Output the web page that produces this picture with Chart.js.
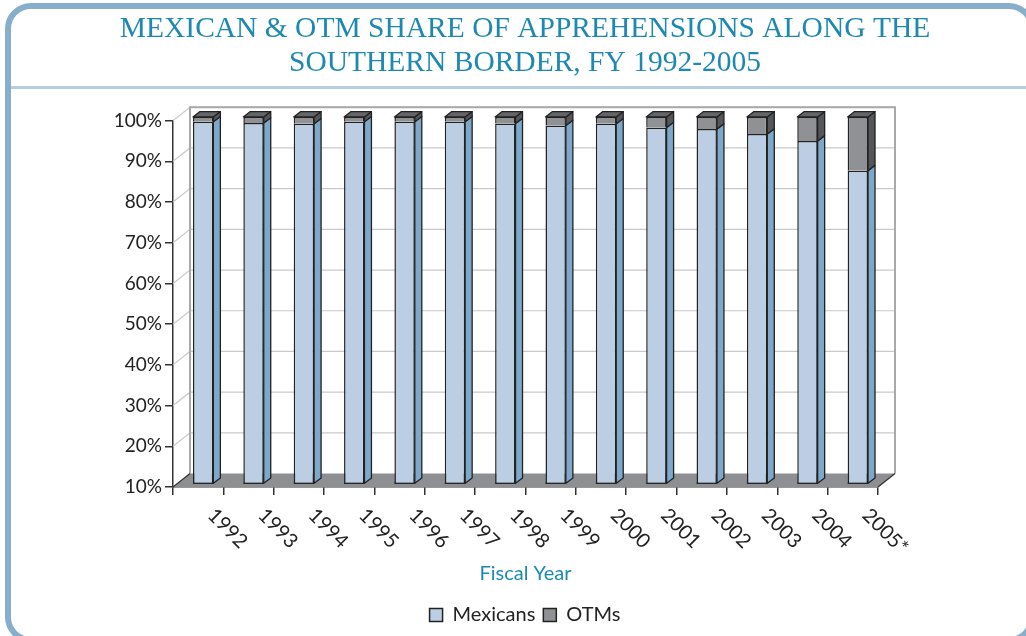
<!DOCTYPE html>
<html><head><meta charset="utf-8">
<script src="https://cdn.jsdelivr.net/npm/chart.js@4.4.0/dist/chart.umd.min.js"></script>
<style>
html,body{margin:0;padding:0;background:#fff;}
#wrap{position:relative;width:1026px;height:636px;overflow:hidden;}
#frame{position:absolute;left:5px;top:3px;width:1030px;height:640px;box-sizing:border-box;border:6px solid #87aecb;border-radius:26px;}
#sep{position:absolute;left:11px;top:86px;width:1015px;height:3px;background:#b7cde0;}
canvas{position:absolute;left:0;top:0;}
</style></head><body>
<div id="wrap"><div id="frame"></div><div id="sep"></div><canvas id="c" width="1026" height="636"></canvas></div>
<script>
const categories = ['1992','1993','1994','1995','1996','1997','1998','1999','2000','2001','2002','2003','2004','2005*'];
const mexicans = [98.8, 98.5, 98.3, 98.8, 98.8, 98.8, 98.4, 97.9, 98.3, 97.4, 97.0, 95.8, 94.1, 86.8];
const otms     = [1.2, 1.5, 1.7, 1.2, 1.2, 1.2, 1.6, 2.1, 1.7, 2.6, 3.0, 4.2, 5.9, 13.2];
const yTickValues = [10, 20, 30, 40, 50, 60, 70, 80, 90, 100];
const titleLines = ['MEXICAN & OTM SHARE OF APPREHENSIONS ALONG THE', 'SOUTHERN BORDER, FY 1992-2005'];
const xTitle = 'Fiscal Year';

const D = {wx: 17, wy: 13.4, sx: 5, sy: 3.7, bx: 7, by: 5.3};
const COL = {mexFront:'#bccee3', mexSide:'#7ea8c9', otmFront:'#909194', otmSide:'#55565a', otmTop:'#646568', edge:'#222'};

const threeD = {
  id: 'threeD',
  beforeDatasetsDraw(chart) {
    const {ctx, chartArea: a, scales: {x, y}} = chart;
    ctx.save();
    const fb = y.getPixelForValue(y.min);
    ctx.fillStyle = '#8e8f92';
    ctx.beginPath();
    ctx.moveTo(a.left, fb); ctx.lineTo(a.right, fb);
    ctx.lineTo(a.right + D.wx, fb - D.wy); ctx.lineTo(a.left + D.wx, fb - D.wy);
    ctx.closePath(); ctx.fill();
    ctx.strokeStyle = '#c9c9c9'; ctx.lineWidth = 1.2;
    y.ticks.forEach(t => {
      if (t.value === y.min) return;
      const py = y.getPixelForValue(t.value);
      ctx.beginPath();
      ctx.moveTo(a.left, py); ctx.lineTo(a.left + D.wx, py - D.wy); ctx.lineTo(a.right + D.wx, py - D.wy);
      ctx.stroke();
    });
    ctx.strokeStyle = '#a9a9a9'; ctx.lineWidth = 2;
    ctx.beginPath();
    ctx.moveTo(a.left + D.wx, fb - D.wy); ctx.lineTo(a.left + D.wx, a.top - D.wy);
    ctx.lineTo(a.right + D.wx, a.top - D.wy); ctx.lineTo(a.right + D.wx, fb - D.wy);
    ctx.stroke();
    ctx.strokeStyle = '#333'; ctx.lineWidth = 1.3;
    ctx.beginPath();
    ctx.moveTo(a.right, fb); ctx.lineTo(a.right + D.wx, fb - D.wy);
    ctx.moveTo(a.left, fb); ctx.lineTo(a.left + D.wx, fb - D.wy);
    ctx.stroke();
    ctx.restore();
    ctx.save();
    ctx.translate(D.sx, -D.sy);
  },
  afterDatasetsDraw(chart) {
    const {ctx, scales: {y: ys}} = chart;
    const floorPx = ys.getPixelForValue(ys.min);
    const n = chart.data.datasets.length;
    ctx.strokeStyle = COL.edge; ctx.lineWidth = 1.3; ctx.lineJoin = 'round';
    for (let d = 0; d < n; d++) {
      const meta = chart.getDatasetMeta(d);
      const side = chart.data.datasets[d].sideColor;
      meta.data.forEach(el => {
        const p = el.getProps(['x', 'y', 'base', 'width'], true);
        const x = p.x, y = p.y, width = p.width;
        const base = Math.min(p.base, floorPx);
        const xr = x + width / 2, xl = x - width / 2;
        ctx.fillStyle = side;
        ctx.beginPath();
        ctx.moveTo(xr, y); ctx.lineTo(xr + D.bx, y - D.by); ctx.lineTo(xr + D.bx, base - D.by); ctx.lineTo(xr, base);
        ctx.closePath(); ctx.fill(); ctx.stroke();
        if (d === 0) {
          ctx.beginPath(); ctx.moveTo(xl, base); ctx.lineTo(xr, base); ctx.stroke();
        }
        if (d === n - 1) {
          ctx.fillStyle = COL.otmTop;
          ctx.beginPath();
          ctx.moveTo(xl, y); ctx.lineTo(xr, y); ctx.lineTo(xr + D.bx, y - D.by); ctx.lineTo(xl + D.bx, y - D.by);
          ctx.closePath(); ctx.fill(); ctx.stroke();
        }
      });
    }
    ctx.restore();
  },
  afterDraw(chart) {
    const {ctx, chartArea: a, scales: {x}} = chart;
    ctx.save();
    ctx.font = '20px Lato'; ctx.fillStyle = '#222';
    ctx.textAlign = 'left'; ctx.textBaseline = 'middle';
    x.getLabels().forEach((lab, i) => {
      const px = x.getPixelForValue(i);
      ctx.save();
      ctx.translate(px + 13, a.bottom + 25);
      ctx.rotate(Math.PI / 4);
      ctx.fillText(lab, 0, 0);
      ctx.restore();
    });
    ctx.restore();
  }
};

function make() {
  new Chart(document.getElementById('c'), {
    type: 'bar',
    data: {
      labels: categories,
      datasets: [
        {label: 'Mexicans', data: mexicans, backgroundColor: COL.mexFront, sideColor: COL.mexSide, borderColor: COL.edge, borderWidth: 1.5, yAxisID: 'y'},
        {label: 'OTMs', data: otms, backgroundColor: COL.otmFront, sideColor: COL.otmSide, borderColor: COL.edge, borderWidth: 1.5, yAxisID: 'y'}
      ]
    },
    options: {
      responsive: false, animation: false, devicePixelRatio: 1,
      categoryPercentage: 1, barPercentage: 0.405,
      layout: {padding: {left: 24, right: 0, top: 0, bottom: 1}},
      plugins: {
        title: {display: true, text: titleLines, color: '#1d89b2',
          font: {family: '"Liberation Serif", serif', size: 29.5, weight: 'normal', lineHeight: '34.5px'},
          padding: {top: 11.5, bottom: 40.1}},
        legend: {position: 'bottom', labels: {boxWidth: 13, boxHeight: 13, padding: 8, color: '#222',
          font: {family: 'Lato', size: 20}}},
        tooltip: {enabled: false}
      },
      scales: {
        x: {stacked: true,
          grid: {display: true, drawOnChartArea: false, drawTicks: true, tickLength: 8, color: '#333', lineWidth: 1.5, offset: true},
          border: {display: true, color: '#333', width: 1.5},
          ticks: {display: false},
          title: {display: true, text: xTitle, color: '#1d89b2', font: {family: 'Lato', size: 20}, padding: {top: 0, bottom: 11}},
          afterFit(s) { s.height = 110; }
        },
        y: {stacked: true, min: 10, max: 100, position: 'left',
          afterBuildTicks(s) { s.ticks = yTickValues.map(v => ({value: v})); },
          grid: {display: true, drawOnChartArea: false, drawTicks: true, tickLength: 8, color: '#333', lineWidth: 1.5},
          border: {display: true, color: '#333', width: 1.5},
          ticks: {padding: 3, color: '#222', font: {family: 'Lato', size: 19}, callback: v => v + '%'},
          afterFit(s) { s.width = 149; }
        },
        yR: {type: 'linear', position: 'right', display: true,
          grid: {display: false}, border: {display: false}, ticks: {display: false},
          afterFit(s) { s.width = 148; }
        }
      }
    },
    plugins: [threeD]
  });
}
Promise.all([
  document.fonts.load('18px Lato'),
  document.fonts.load('28px "Liberation Serif"')
]).then(make, make);
</script>
</body></html>
